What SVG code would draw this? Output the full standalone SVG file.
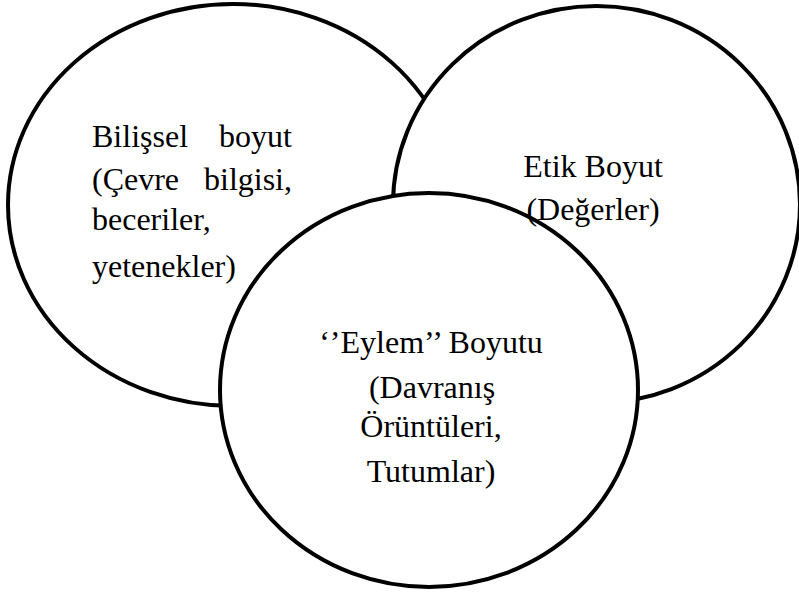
<svg xmlns="http://www.w3.org/2000/svg" width="799" height="594" viewBox="0 0 799 594">
  <style>
    .ring { fill: #ffffff; stroke: #000000; stroke-width: 4; }
    .lbl { font-family: "Liberation Serif", "Times New Roman", serif; font-size: 32px; fill: #000000; }
    .mid { text-anchor: middle; }
    .end { text-anchor: end; }
  </style>
  <rect width="799" height="594" fill="#ffffff"/>

  <!-- circles, back to front -->
  <g id="bilissel">
    <ellipse class="ring" cx="233" cy="205" rx="225" ry="201"/>
  </g>
  <g id="etik">
    <ellipse class="ring" cx="596.5" cy="204.5" rx="203.5" ry="198.5"/>
  </g>
  <g id="eylem">
    <ellipse class="ring" cx="429" cy="390" rx="209" ry="197"/>
  </g>

  <!-- labels sit above all circles -->
  <g id="bilissel-label">
    <text class="lbl" x="92" y="147">Bilişsel</text>
    <text class="lbl end" x="292" y="147">boyut</text>
    <text class="lbl" x="92" y="190">(Çevre</text>
    <text class="lbl end" x="292" y="190">bilgisi,</text>
    <text class="lbl" x="92" y="230">beceriler,</text>
    <text class="lbl" x="92" y="277">yetenekler)</text>
  </g>
  <g id="etik-label">
    <text class="lbl mid" x="593" y="177">Etik Boyut</text>
    <text class="lbl mid" x="593" y="220">(Değerler)</text>
  </g>
  <g id="eylem-label">
    <text class="lbl mid" x="431" y="353">‘’Eylem’’ Boyutu</text>
    <text class="lbl mid" x="432" y="398">(Davranış</text>
    <text class="lbl mid" x="431" y="437">Örüntüleri,</text>
    <text class="lbl mid" x="431" y="482">Tutumlar)</text>
  </g>
</svg>
